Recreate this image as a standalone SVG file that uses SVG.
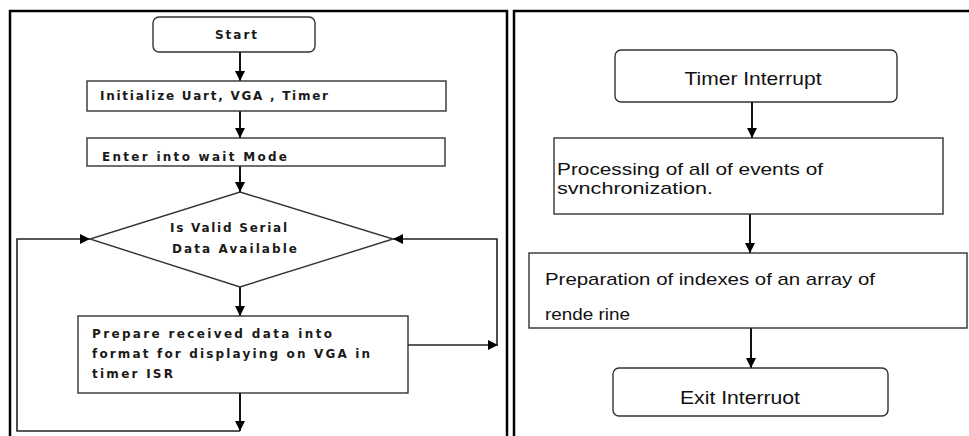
<svg xmlns="http://www.w3.org/2000/svg" width="969" height="436" viewBox="0 0 969 436">
<defs>
<marker id="ah" markerUnits="userSpaceOnUse" markerWidth="10" markerHeight="10" refX="10" refY="5" orient="auto">
<path d="M0,0 L10,5 L0,10 z" fill="#000"/>
</marker>
<style>
.frame{fill:none;stroke:#000;stroke-width:2.5}
.box{fill:#fff;stroke:#333;stroke-width:1.4}
.con{fill:none;stroke:#111;stroke-width:2;marker-end:url(#ah)}
.loop{fill:none;stroke:#222;stroke-width:1.6}
.lt{font-family:"DejaVu Sans","Verdana",sans-serif;font-size:12px;font-weight:600;fill:#1a1a1a}
.rt{font-family:"Liberation Sans Narrow","Liberation Sans",sans-serif;font-size:17px;fill:#111}
.big{font-size:19px}
</style>
</defs>
<g id="frames">
<path class="frame" d="M10,436 L10,11 L507,11 L507,436"/>
<path class="frame" d="M514,436 L514,11 L969,11"/>
</g>
<g id="connectors">
<path class="con" d="M240,52 L240,81"/>
<path class="con" d="M240,111 L240,138"/>
<path class="con" d="M240,166 L240,192"/>
<path class="con" d="M240,287 L240,316"/>
<path class="con" d="M240,393 L240,431"/>
<path class="loop" d="M240,431 L17,431 L17,239 L90,239" marker-end="url(#ah)"/>
<path class="loop" d="M408,345 L498,345" marker-end="url(#ah)"/>
<path class="loop" d="M497,345 L497,239 L393,239" marker-end="url(#ah)"/>
<path class="con" d="M752,102 L752,138"/>
<path class="con" d="M750,214 L750,253"/>
<path class="con" d="M751,328 L751,368"/>
</g>
<g id="start">
<rect class="box" x="153" y="17" width="162" height="35" rx="6"/>
<text class="lt" x="236" y="39" text-anchor="middle" textLength="42" lengthAdjust="spacing">Start</text>
</g>
<g id="init">
<rect class="box" x="87" y="81" width="359" height="30"/>
<text class="lt" x="100" y="100" textLength="228" lengthAdjust="spacing">Initialize Uart, VGA , Timer</text>
</g>
<g id="wait">
<rect class="box" x="87" y="138" width="358" height="28"/>
<text class="lt" x="102" y="161" textLength="185" lengthAdjust="spacing">Enter into wait Mode</text>
</g>
<g id="decision">
<polygon class="box" points="240,192 393,239 240,287 90,239"/>
<text class="lt" x="170" y="232" textLength="117" lengthAdjust="spacing">Is Valid Serial</text>
<text class="lt" x="172" y="253" textLength="125" lengthAdjust="spacing">Data Available</text>
</g>
<g id="prepare">
<rect class="box" x="78" y="316" width="330" height="77"/>
<text class="lt" x="92" y="338" textLength="240" lengthAdjust="spacing">Prepare received data into</text>
<text class="lt" x="92" y="358" textLength="278" lengthAdjust="spacing">format for displaying on VGA in</text>
<text class="lt" x="92" y="378" textLength="81" lengthAdjust="spacing">timer ISR</text>
</g>
<g id="timer">
<rect class="box" x="615" y="50" width="282" height="52" rx="6"/>
<text class="rt big" x="753" y="85" text-anchor="middle" textLength="137" lengthAdjust="spacingAndGlyphs">Timer Interrupt</text>
</g>
<g id="processing">
<rect class="box" x="554" y="138" width="389" height="76"/>
<text class="rt" x="557" y="175" textLength="266" lengthAdjust="spacingAndGlyphs">Processing of all of events of</text>
<text class="rt" x="557" y="194" textLength="156" lengthAdjust="spacingAndGlyphs">svnchronization.</text>
</g>
<g id="preparation">
<rect class="box" x="529" y="253" width="438" height="75"/>
<text class="rt" x="545" y="285" textLength="330" lengthAdjust="spacingAndGlyphs">Preparation of indexes of an array of</text>
<text class="rt" x="545" y="320" textLength="85" lengthAdjust="spacingAndGlyphs">rende rine</text>
</g>
<g id="exit">
<rect class="box" x="613" y="368" width="275" height="48" rx="6"/>
<text class="rt big" x="740" y="404" text-anchor="middle" textLength="120" lengthAdjust="spacingAndGlyphs">Exit Interruot</text>
</g>
</svg>
